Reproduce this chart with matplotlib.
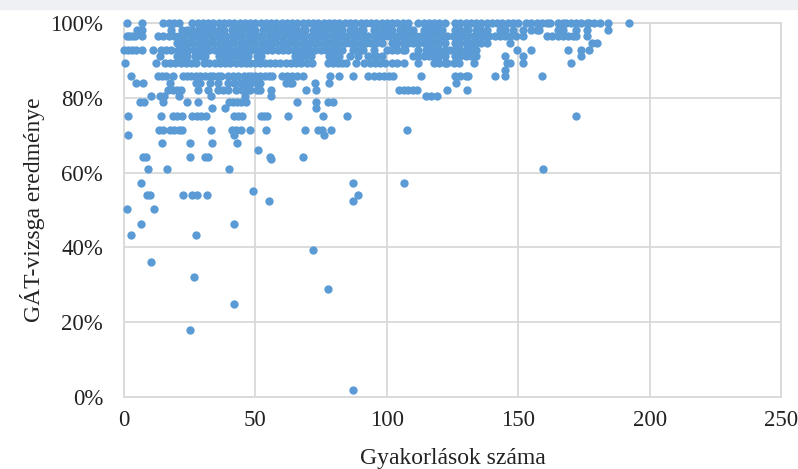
import numpy as np
import matplotlib.pyplot as plt
from matplotlib.patches import Rectangle

plt.rcParams['font.family'] = ['Liberation Serif', 'DejaVu Serif']

# exam score levels (%)
levels = [100, 98.2, 96.4, 94.6, 92.9, 91.1, 89.3, 87.5, 85.7, 83.9, 82.1, 80.4, 79.0,
          77.4, 75.0, 71.4, 70.0, 68.0, 66.0, 64.3, 63.6, 61.0, 57.2, 55.0, 54.0, 52.3,
          50.3, 46.2, 43.2, 39.2, 36.2, 32.0, 29.0, 25.0, 18.0, 2.0]

# number of practices for the students on each level (same order as levels)
practices = [
    [1, 7, 15, 17, 19, 21, 26, 28, 30, 32, 34, 36, 38, 40, 42, 44, 46, 48, 50, 52, 54, 56,
     58, 60, 62, 64, 66, 68, 70, 72, 74, 76, 78, 80, 82, 84, 86, 88, 90, 92, 94, 96, 98,
     100, 102, 104, 106, 108, 112, 114, 116, 118, 120, 122, 126, 128, 130, 132, 134, 136,
     138, 140, 142, 144, 146, 148, 150, 153, 155, 157, 159, 161, 162, 165, 167, 168, 170,
     172, 174, 176, 177, 179, 181, 184, 192],
    [5, 7, 18, 22, 24, 26, 28, 30, 32, 34, 36, 38, 41, 43, 45, 47, 49, 50, 53, 55, 57, 59,
     60, 62, 64, 66, 68, 69, 72, 74, 75, 77, 79, 81, 83, 86, 88, 90, 91, 95, 97, 99, 101,
     102, 105, 107, 109, 110, 114, 116, 118, 120, 121, 126, 128, 130, 131, 134, 136, 138,
     143, 145, 148, 152, 155, 157, 158, 165, 167, 172, 176, 184],
    [1, 2, 3, 4.3, 7, 13, 15, 17, 19, 21, 23, 25, 27, 29, 31, 33, 35, 37, 39, 41, 43, 45,
     47, 49, 51, 53, 55, 57, 59, 61, 63, 65, 67, 69, 71, 73, 75, 77, 79, 81, 83, 85, 87,
     89, 91, 93, 95, 97, 99, 101, 103, 105, 107, 109, 111, 113, 115, 117, 119, 121, 123,
     125, 127, 129, 131, 133, 135, 137, 139, 141, 143, 145, 147, 149, 152, 161, 163, 165,
     167, 169, 171, 172, 176],
    [20, 22, 24, 26, 28, 30, 32, 34, 36, 38, 40, 42, 44, 46, 48, 50, 52, 54, 56, 58, 60,
     62, 64, 66, 68, 70, 72, 74, 76, 78, 80, 82, 84, 86, 88, 90, 92, 94, 96, 98, 102, 104,
     106, 108, 110, 112, 114, 116, 118, 120, 122, 126, 128, 130, 132, 134, 136, 138, 147,
     178, 180],
    [0, 1.5, 3, 4.5, 7, 11, 14, 16, 18, 20.5, 22.5, 24.5, 26.5, 28.5, 30.5, 32.5, 34.5,
     36.5, 38.5, 40.5, 42.5, 44.5, 46.5, 48.5, 50.5, 52.5, 54.5, 56.5, 58.5, 60.5, 62.5,
     64.5, 66.5, 68.5, 70.5, 72.5, 75, 77, 79, 81, 83, 87, 89, 91, 95, 100, 102, 104, 106,
     107, 112, 115, 117, 119, 120, 122, 124, 126, 128, 130, 132, 134, 149.5, 154.8, 169,
     174, 176.8],
    [13.7, 20, 22, 24, 27, 29, 31, 36, 38, 40, 42, 44, 45.5, 47, 50.5, 52, 65, 67, 69, 71,
     78, 80, 82, 86, 89, 93, 95, 96, 98, 110, 112, 114, 116, 118, 120, 122, 126, 128, 130,
     132, 134, 145, 152, 174],
    [0.4, 12.3, 15.5, 17.5, 19.5, 21.5, 23.5, 25.5, 27.5, 30.5, 32.5, 34.5, 36.5, 38.5,
     40.5, 42.5, 44.5, 46.5, 48, 50, 51.6, 53.5, 55.5, 57.5, 59.5, 61.5, 63.5, 65.5, 67.5,
     69.5, 71.5, 77.5, 79.5, 81.5, 83, 84.5, 88.4, 91.5, 93.5, 95.5, 97.5, 99.5, 102, 104,
     106.5, 112, 118, 120, 122, 123, 125.5, 127.5, 133, 145.7, 147, 152, 170],
    [145],
    [2.8, 13, 14.5, 16, 18.6, 22.4, 24, 25.5, 27.3, 29, 31, 32.6, 34, 35.7, 37, 39.5, 41.5,
     43.5, 45.5, 47, 48.5, 50, 51.6, 53.5, 55, 56.5, 60, 62, 64, 66, 68, 78.5, 82, 87, 93,
     95, 97, 99, 101, 102.5, 113, 126, 128, 130, 131, 141, 145, 159],
    [4.5, 7.2, 17.5, 27.3, 29, 32.6, 35.7, 39.5, 42, 44, 45.5, 46.6, 48.5, 50.5, 51.6,
     61.5, 63, 64, 72.8, 78, 126.3],
    [16.7, 18.5, 20, 21.6, 28, 32, 35.7, 37.5, 39.5, 42.5, 45, 46.5, 48, 50.5, 51.6, 55.8,
     69.2, 72.9, 104.7, 106.5, 108, 110, 111.5, 123, 130.5],
    [10.3, 13.7, 15.3, 21, 33, 46, 55.8, 115, 117, 119],
    [6, 7.5, 15, 24, 28, 40, 41.5, 43, 44.5, 46.3, 66, 72.9, 77.8, 79.5],
    [33.4, 38.3, 73],
    [1.5, 14.2, 18.6, 20.2, 22, 26, 27.7, 29.4, 31.2, 42, 43.5, 45, 52, 53.3, 54.6, 62.5,
     75.7, 85, 172],
    [13.5, 15, 17.5, 19.2, 21, 22, 33.2, 41, 42.5, 44.4, 47.9, 54, 69, 73.7, 75.3, 78.8,
     107.7],
    [1.5, 42, 76],
    [14.4, 25, 33.4, 43],
    [51],
    [7.2, 8.5, 25, 30.7, 32, 55.5, 68],
    [56],
    [9, 16.3, 40, 159.3],
    [6.4, 87, 106.6],
    [49],
    [8.6, 10, 22.4, 26, 27.7, 31.5, 89],
    [55, 87],
    [1, 11.4],
    [6.4, 42],
    [2.6, 27.3],
    [72],
    [10.3],
    [26.5],
    [77.8],
    [42],
    [25],
    [87],
]

x_ticks = [0, 50, 100, 150, 200, 250]
y_ticks = [0, 20, 40, 60, 80, 100]

xs = np.concatenate([np.array(p, dtype=float) for p in practices])
ys = np.concatenate([np.full(len(p), lv) for p, lv in zip(practices, levels)])

fig = plt.figure(figsize=(7.98, 4.69), dpi=100)
fig.patches.append(Rectangle((0, 1 - 9 / 469), 1, 9 / 469, transform=fig.transFigure,
                             color='#eef0f3', zorder=0))
ax = fig.add_axes([124 / 798, 1 - 397 / 469, (781 - 124) / 798, (397 - 23) / 469])

ax.scatter(xs, ys, s=36, color='#5B9BD5', linewidths=0, zorder=3, clip_on=False)

ax.set_xlim(0, 250)
ax.set_ylim(0, 100)
ax.set_xticks(x_ticks)
ax.set_yticks(y_ticks)
ax.set_yticklabels([f'{v}%' for v in y_ticks])
ax.grid(True, color='#d9d9d9', linewidth=1.3)
ax.set_axisbelow(True)
for s in ax.spines.values():
    s.set_color('#d9d9d9')
    s.set_linewidth(1.3)
ax.tick_params(length=0, labelsize=16.5, colors='#222222')
ax.tick_params(axis='y', pad=15)
ax.tick_params(axis='x', pad=9)

fig.text(453 / 798, 1 - 458 / 469, 'Gyakorlások száma', ha='center', va='center',
         fontsize=17, color='#222222')
fig.text(33 / 798, 1 - 210 / 469, 'GÁT-vizsga eredménye', ha='center', va='center',
         rotation=90, fontsize=17, color='#222222')

fig.savefig('out.png', dpi=100)
